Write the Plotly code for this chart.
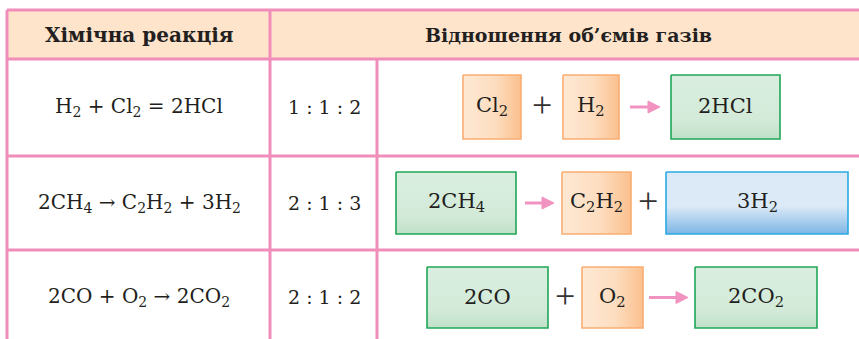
import plotly.graph_objects as go

# ---------------- data ----------------
headers = ["Хімічна реакція", "Відношення об’ємів газів"]
reactions = [
    "H<sub>2</sub> + Cl<sub>2</sub> = 2HCl",
    "2CH<sub>4</sub> → C<sub>2</sub>H<sub>2</sub> + 3H<sub>2</sub>",
    "2CO + O<sub>2</sub> → 2CO<sub>2</sub>",
]
ratios = ["1 : 1 : 2", "2 : 1 : 3", "2 : 1 : 2"]
gas_labels = [
    ["Cl<sub>2</sub>", "H<sub>2</sub>", "2HCl"],
    ["2CH<sub>4</sub>", "C<sub>2</sub>H<sub>2</sub>", "3H<sub>2</sub>"],
    ["2CO", "O<sub>2</sub>", "2CO<sub>2</sub>"],
]
gas_kinds = [
    ["orange", "orange", "green"],
    ["green", "orange", "blue"],
    ["green", "orange", "green"],
]
operators = [["+", "→"], ["→", "+"], ["+", "→"]]

# ---------------- layout geometry (pixels) ----------------
W, H = 859, 339
row_y = [107, 203, 297]
row_box = [(75, 139), (172, 234), (267, 328)]
box_x = [
    [(463, 521), (563, 619), (671, 780)],
    [(396, 516), (562, 631), (666, 848)],
    [(427, 548), (582, 643), (695, 817)],
]
op_x = [[(542, 542), (630, 660)], [(525, 554), (648, 648)], [(565, 565), (649, 688)]]

styles = {
    "orange": dict(scale=[[0, "#FEE9D5"], [0.55, "#FDDDBF"], [1, "#FBC08E"]],
                   line="#F9AD72", gtype="horizontal"),
    "green": dict(scale=[[0, "#BFE1C8"], [0.3, "#D3EAD9"], [1, "#D9EEDF"]],
                  line="#20A657", gtype="vertical"),
    "blue": dict(scale=[[0, "#7DB6E4"], [0.45, "#DCEAF8"], [1, "#DCEAF8"]],
                 line="#2AAAE2", gtype="vertical"),
}

PINK = "#F08DBA"
ARROW = "#F193C0"
TXT = "#231F20"
FONT = "DejaVu Serif"

fig = go.Figure()
shapes = []
ann = []

# header background
shapes.append(dict(type="rect", x0=7, x1=W + 5, y0=10, y1=59, fillcolor="#FEE4CB",
                   line=dict(width=0), layer="below"))


def hline(y, x0=7, x1=W + 5):
    shapes.append(dict(type="line", x0=x0, x1=x1, y0=y, y1=y, line=dict(color=PINK, width=3)))


def vline(x, y0, y1=H + 5):
    shapes.append(dict(type="line", x0=x, x1=x, y0=y0, y1=y1, line=dict(color=PINK, width=3)))


for y in [10, 59, 156, 250]:
    hline(y)
vline(7, 10)
vline(270, 10)
vline(377, 59)

# headers
ann.append(dict(x=139, y=35, text="<b>" + headers[0] + "</b>", size=20))
ann.append(dict(x=568, y=35, text="<b>" + headers[1] + "</b>", size=19))

# reactions and ratios
for i in range(3):
    ann.append(dict(x=139, y=row_y[i], text=reactions[i], size=20))
    ann.append(dict(x=324, y=row_y[i], text=ratios[i], size=19))

# boxes
for i in range(3):
    y0, y1 = row_box[i]
    for j in range(3):
        x0, x1 = box_x[i][j]
        st = styles[gas_kinds[i][j]]
        fig.add_trace(go.Scatter(
            x=[x0, x1, x1, x0, x0], y=[y0, y0, y1, y1, y0], mode="lines",
            fill="toself", line=dict(color=st["line"], width=1.6),
            fillgradient=dict(type=st["gtype"], colorscale=st["scale"]),
            hoverinfo="skip", showlegend=False))
        ann.append(dict(x=(x0 + x1) / 2, y=(y0 + y1) / 2 - 1, text=gas_labels[i][j], size=21))
    yc = (y0 + y1) / 2
    for k in range(2):
        a, b = op_x[i][k]
        if operators[i][k] == "+":
            ann.append(dict(x=a, y=yc - 2, text="+", size=36,
                            family="DejaVu Sans ExtraLight", color="#333333"))
        else:
            shapes.append(dict(type="line", x0=a, x1=b - 10, y0=yc, y1=yc,
                               line=dict(color=ARROW, width=3)))
            shapes.append(dict(type="path",
                               path=f"M {b-12},{yc-6} L {b},{yc} L {b-12},{yc+6} Z",
                               fillcolor=ARROW, line=dict(color=ARROW, width=1)))

annotations = []
for a in ann:
    annotations.append(dict(
        x=a["x"], y=a["y"], xref="x", yref="y", text=a["text"], showarrow=False,
        xanchor="center", yanchor="middle",
        font=dict(family=a.get("family", FONT), size=a.get("size", 17), color=a.get("color", TXT))))

fig.update_layout(
    width=W, height=H, margin=dict(l=0, r=0, t=0, b=0),
    paper_bgcolor="white", plot_bgcolor="white",
    xaxis=dict(range=[0, W], visible=False, fixedrange=True),
    yaxis=dict(range=[H, 0], visible=False, fixedrange=True),
    shapes=shapes, annotations=annotations, showlegend=False,
)
fig.write_html("out.html", config={"displayModeBar": False},
               post_script="document.body.style.margin='0';")
